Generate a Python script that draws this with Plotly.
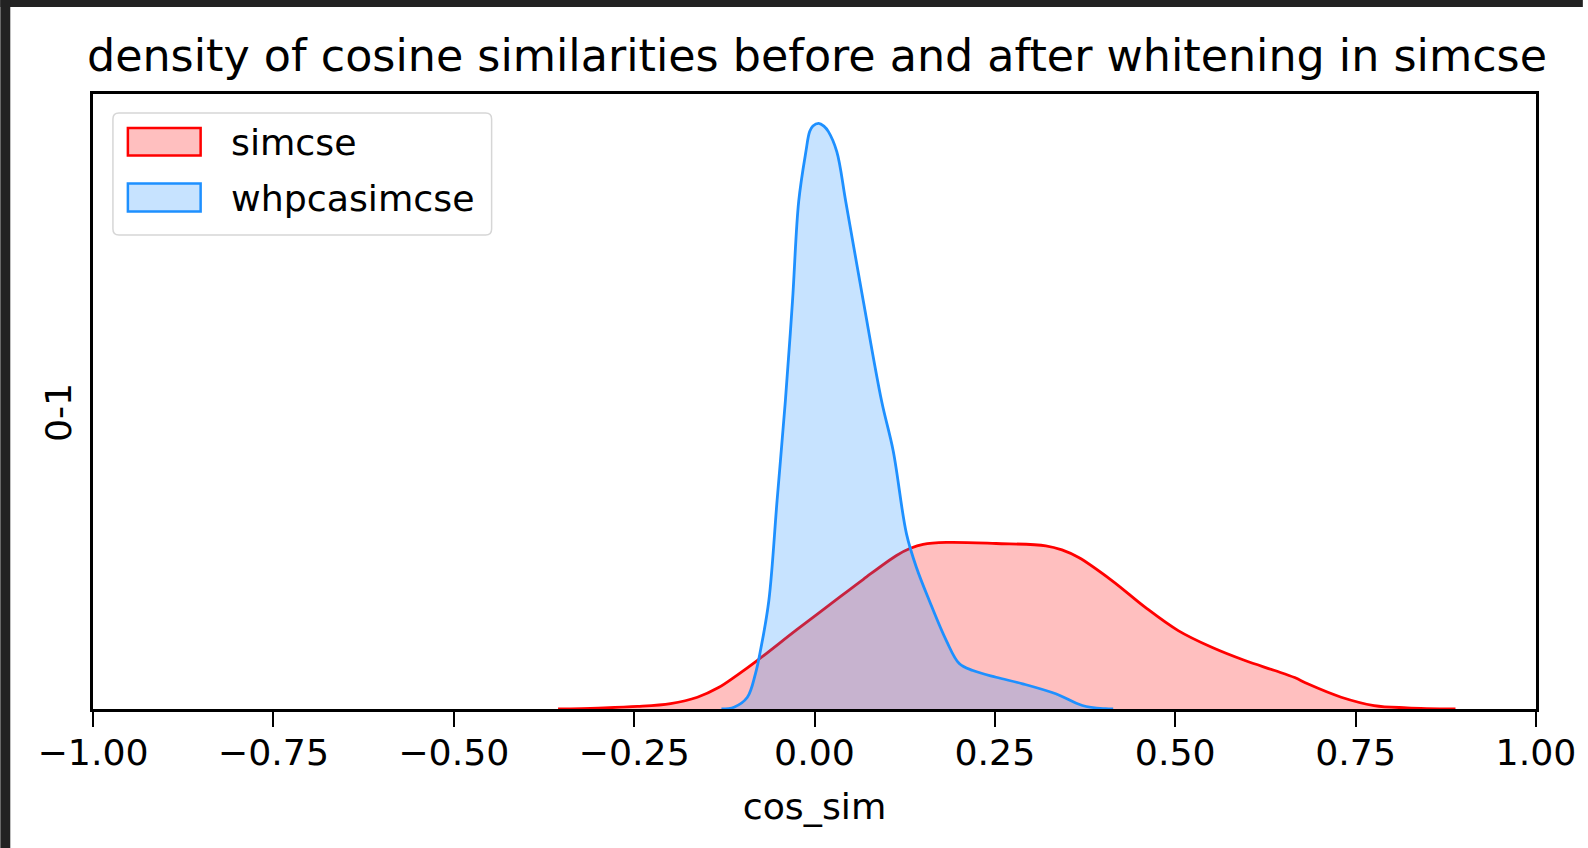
import plotly.graph_objects as go

# ---- data (density estimates) ----
simcse_x = [-0.3554, -0.30, -0.2453, -0.1995, -0.1623, -0.1330, -0.1071, -0.0795,
            -0.0245, 0.0212, 0.0677, 0.1137, 0.1330, 0.1505, 0.1827, 0.2517,
            0.3206, 0.3430, 0.3662, 0.4127, 0.4585, 0.5041, 0.5506, 0.5966,
            0.6379, 0.6655, 0.6835, 0.7300, 0.7756, 0.8215, 0.8884]
simcse_y = [0.0, 0.012, 0.032, 0.069, 0.149, 0.271, 0.429, 0.612,
            1.003, 1.318, 1.639, 1.940, 2.030, 2.080, 2.104, 2.091,
            2.062, 2.010, 1.914, 1.620, 1.284, 0.990, 0.779, 0.612,
            0.486, 0.397, 0.318, 0.149, 0.044, 0.015, 0.0]

whpca_x = [-0.129, -0.1116, -0.0933, -0.0818, -0.0749, -0.0633, -0.0519, -0.0404,
           -0.0305, -0.0219, -0.0119, -0.0067, -0.0022, 0.0057, 0.0130, 0.0193,
           0.0309, 0.0433, 0.0677, 0.0930, 0.1091, 0.1275, 0.1413, 0.1592,
           0.1827, 0.2006, 0.2195, 0.2517, 0.2885, 0.3344, 0.3713, 0.4034, 0.414]
whpca_y = [0.0, 0.023, 0.145, 0.448, 0.738, 1.368, 2.629, 3.891,
           5.152, 6.413, 7.043, 7.295, 7.365, 7.400, 7.365, 7.295,
           7.043, 6.413, 5.152, 3.891, 3.260, 2.213, 1.788, 1.368,
           0.864, 0.574, 0.486, 0.401, 0.318, 0.192, 0.044, 0.003, 0.0]

series_names = ["simcse", "whpcasimcse"]
x_tickvals = [-1.0, -0.75, -0.5, -0.25, 0.0, 0.25, 0.5, 0.75, 1.0]
x_ticktext = ["\u22121.00", "\u22120.75", "\u22120.50", "\u22120.25", "0.00",
              "0.25", "0.50", "0.75", "1.00"]

FONT = "DejaVu Sans"
W, H = 1588, 848
ML, MR, MT, MB = 93, 47, 94, 139
PW, PH = W - ML - MR, H - MT - MB


def px_x(p):
    return (p - ML) / PW


def px_y(p):
    return (H - MB - p) / PH


fig = go.Figure()
fig.add_trace(go.Scatter(
    x=simcse_x, y=simcse_y, name=series_names[0], mode="lines",
    line=dict(color="#ff0000", width=2.8, shape="spline", smoothing=1.0),
    fill="tozeroy", fillcolor="rgba(255,0,0,0.25)", showlegend=False))
fig.add_trace(go.Scatter(
    x=whpca_x, y=whpca_y, name=series_names[1], mode="lines",
    line=dict(color="#1e90ff", width=2.8, shape="spline", smoothing=1.0),
    fill="tozeroy", fillcolor="rgba(30,144,255,0.25)", showlegend=False))

shapes = []
# dark screenshot border (top and left)
shapes.append(dict(type="rect", xref="paper", yref="paper",
                   x0=px_x(0), x1=px_x(W), y0=px_y(0), y1=px_y(7),
                   fillcolor="#222222", line=dict(width=0), layer="above"))
shapes.append(dict(type="rect", xref="paper", yref="paper",
                   x0=px_x(0), x1=px_x(10), y0=px_y(0), y1=px_y(H),
                   fillcolor="#222222", line=dict(width=0), layer="above"))

# legend frame (rounded)
lx0, lx1, ly0, ly1, r = 113, 493, 113, 235, 6


def P(x, y):
    return f"{px_x(x):.6f},{px_y(y):.6f}"


path = (f"M {P(lx0 + r, ly0)} L {P(lx1 - r, ly0)} Q {P(lx1, ly0)} {P(lx1, ly0 + r)} "
        f"L {P(lx1, ly1 - r)} Q {P(lx1, ly1)} {P(lx1 - r, ly1)} "
        f"L {P(lx0 + r, ly1)} Q {P(lx0, ly1)} {P(lx0, ly1 - r)} "
        f"L {P(lx0, ly0 + r)} Q {P(lx0, ly0)} {P(lx0 + r, ly0)} Z")
shapes.append(dict(type="path", xref="paper", yref="paper", path=path,
                   fillcolor="rgba(255,255,255,0.8)",
                   line=dict(color="#d6d6d6", width=1.5), layer="above"))
# legend patches and labels
patch_cols = [("rgba(255,0,0,0.25)", "#ff0000"), ("rgba(30,144,255,0.25)", "#1e90ff")]
patch_y = [(128, 155.5), (183.5, 211.5)]
annotations = []
for (fc, lc), (y0, y1), name in zip(patch_cols, patch_y, series_names):
    shapes.append(dict(type="rect", xref="paper", yref="paper",
                       x0=px_x(128), x1=px_x(201), y0=px_y(y1), y1=px_y(y0),
                       fillcolor=fc, line=dict(color=lc, width=2.5), layer="above"))
    annotations.append(dict(xref="paper", yref="paper", x=px_x(229),
                            y=px_y((y0 + y1) / 2 + 1), xanchor="left", yanchor="middle",
                            text=name, showarrow=False,
                            font=dict(family=FONT, size=36.3, color="#000000")))

# y axis label
annotations.append(dict(xref="paper", yref="paper", x=px_x(58), y=px_y(413),
                        xanchor="center", yanchor="middle", textangle=-90,
                        text="0-1", showarrow=False,
                        font=dict(family=FONT, size=36.3, color="#000000")))

fig.update_layout(
    width=W, height=H, autosize=False,
    margin=dict(l=ML, r=MR, t=MT, b=MB, pad=0),
    paper_bgcolor="white", plot_bgcolor="white",
    font=dict(family=FONT, size=36.3, color="#000000"),
    title=dict(text="density of cosine similarities before and after whitening in simcse",
               x=(ML + PW / 2) / W, xanchor="center",
               y=1 - 55 / H, yanchor="middle",
               font=dict(family=FONT, size=44.4, color="#000000")),
    xaxis=dict(range=[-1, 1], tickvals=x_tickvals, ticktext=x_ticktext,
               ticks="outside", ticklen=15, tickwidth=2.2, tickcolor="#000000",
               ticklabelstandoff=-5,
               showline=True, linecolor="#000000", linewidth=2.5, mirror=True,
               showgrid=False, zeroline=False,
               tickfont=dict(family=FONT, size=36.3, color="#000000"),
               title=dict(text="cos_sim", standoff=21,
                          font=dict(family=FONT, size=36.3, color="#000000"))),
    yaxis=dict(range=[0, 7.4 * 1.05], showticklabels=False, ticks="",
               showline=True, linecolor="#000000", linewidth=2.5, mirror=True,
               showgrid=False, zeroline=False),
    shapes=shapes, annotations=annotations, showlegend=False,
)

fig.write_html("out.html")
